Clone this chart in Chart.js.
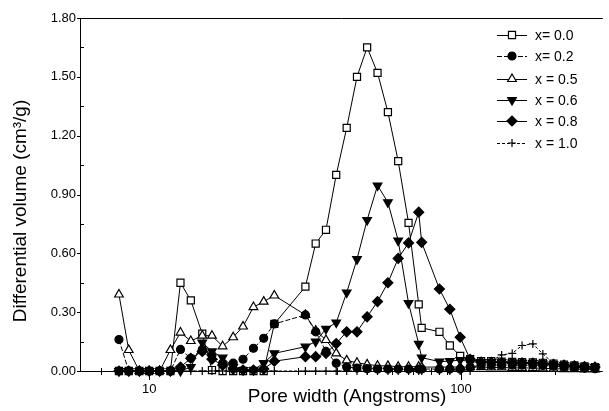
<!DOCTYPE html>
<html lang="en">
<head>
  <meta charset="UTF-8">
  <title>Differential pore volume</title>
  <script src="https://cdn.jsdelivr.net/npm/chart.js"></script>
  <style>
    body {
      margin: 0;
      padding: 0;
      background: #fff;
    }
    #chart {
      display: block;
    }
  </style>
</head>
<body>
  <canvas id="chart" width="609" height="411"></canvas>

  <script>
    // Pore widths (Angstroms), shared by every series
    const poreWidth = [8.0, 8.6, 9.3, 10.0, 10.8, 11.7, 12.6, 13.6, 14.8, 15.9, 17.2, 18.6, 20.0, 21.6, 23.3, 25.2,
      31.7, 34.2, 36.9, 39.8, 43.0, 46.4, 50.0, 54.0, 58.3, 62.9, 67.9, 73.2, 74.8, 85.3, 92.1, 99.4,
      107, 116, 125, 135, 146, 157, 170, 183, 198, 214, 231, 249, 269];

    // Differential volume (cm3/g) per composition
    const vol00 = [0, 0, 0, 0, 0, 0, 0.45, 0.36, 0.19, 0.005, 0, 0, 0, 0, 0, 0.24,
      0.43, 0.65, 0.72, 1.00, 1.24, 1.50, 1.65, 1.52, 1.32, 1.07, 0.755, 0.34, 0.22, 0.20, 0.13, 0.077,
      0.06, 0.05, 0.05, 0.048, 0.046, 0.045, 0.044, 0.042, 0.038, 0.032, 0.028, 0.024, 0.02];
    const vol02 = [0.16, 0, 0, 0, 0, 0, 0.11, 0.065, 0.11, 0.08, 0.04, 0.04, 0.06, 0.116, 0.167, 0.24,
      0.286, 0.2, 0.1, 0.04, 0.02, 0.015, 0.012, 0.01, 0.01, 0.01, 0.01, 0.01, 0.01, 0.01, 0.01, 0.01,
      0.02, 0.03, 0.03, 0.03, 0.03, 0.03, 0.03, 0.028, 0.025, 0.02, 0.018, 0.015, 0.012];
    const vol05 = [0.39, 0.107, 0, 0, 0, 0.107, 0.196, 0.153, 0.18, 0.18, 0.126, 0.172, 0.227, 0.326, 0.354, 0.385,
      0.286, 0.206, 0.158, 0.09, 0.054, 0.042, 0.034, 0.027, 0.026, 0.022, 0.022, 0.022, 0.02, 0.02, 0.02, 0.02,
      0.02, 0.02, 0.018, 0.018, 0.016, 0.016, 0.015, 0.014, 0.012, 0.01, 0.01, 0.008, 0.008];
    const vol06 = [0, 0, 0, 0, 0, 0, 0, 0.02, 0.145, 0.10, 0.068, 0.02, 0.005, 0.005, 0.04, 0.09,
      0.124, 0.15, 0.215, 0.247, 0.40, 0.57, 0.77, 0.946, 0.86, 0.665, 0.346, 0.138, 0.068, 0.048, 0.05, 0.056,
      0.048, 0.046, 0.045, 0.044, 0.043, 0.042, 0.04, 0.038, 0.034, 0.03, 0.026, 0.022, 0.02];
    const vol08 = [0, 0, 0, 0, 0, 0, 0.02, 0.065, 0.1, 0.06, 0.03, 0.01, 0.005, 0.005, 0.01, 0.05,
      0.073, 0.073, 0.09, 0.14, 0.2, 0.2, 0.276, 0.354, 0.45, 0.574, 0.653, 0.81, 0.656, 0.418, 0.315, 0.172,
      0.06, 0.045, 0.044, 0.043, 0.042, 0.041, 0.04, 0.038, 0.034, 0.03, 0.026, 0.022, 0.02];
    const vol10 = [0, 0, 0, 0, 0, 0, 0, 0, 0, 0, 0, 0, 0, 0, 0, 0,
      0, 0, 0, 0, 0, 0, 0, 0, 0, 0, 0, 0, 0, 0, 0, 0,
      0, 0.04, 0.05, 0.082, 0.09, 0.13, 0.138, 0.087, 0.04, 0.025, 0.02, 0.015, 0.012];

    const seriesLabels = ['x= 0.0', 'x= 0.2', 'x = 0.5', 'x = 0.6', 'x = 0.8', 'x = 1.0'];

    // Axis ticks
    const yTickValues = [0, 0.3, 0.6, 0.9, 1.2, 1.5, 1.8];
    const yMinorTicks = [0.15, 0.45, 0.75, 1.05, 1.35, 1.65];
    const xTickValues = [10, 100];
    const xMinorTicks = [7, 8, 9, 20, 30, 40, 50, 60, 70, 80, 90, 200];

    const FONT = '"Liberation Sans", Arial, sans-serif';

    function toPoints(values) {
      return values.map((v, i) => ({ x: poreWidth[i], y: v }));
    }

    function series(label, values, style) {
      return Object.assign({
        label: label,
        data: toPoints(values),
        borderColor: '#000',
        borderWidth: 1,
        pointBorderColor: '#000',
        pointBorderWidth: 1.2,
        pointBackgroundColor: '#000',
        pointRadius: 4,
        tension: 0,
        fill: false,
        clip: false
      }, style);
    }

    // higher "order" is painted first, so the filled markers sit on top near zero
    const datasets = [
      series(seriesLabels[0], vol00, { order: 6, pointStyle: 'rect', pointRadius: 5, pointBackgroundColor: '#fff' }),
      series(seriesLabels[1], vol02, { order: 3, pointStyle: 'circle', pointRadius: 4, borderDash: [5, 2] }),
      series(seriesLabels[2], vol05, { order: 5, pointStyle: 'triangle', pointRadius: 5, pointBackgroundColor: '#fff' }),
      series(seriesLabels[3], vol06, { order: 2, pointStyle: 'triangle', pointRotation: 180, pointRadius: 5 }),
      series(seriesLabels[4], vol08, { order: 1, pointStyle: 'rectRot', pointRadius: 5 }),
      series(seriesLabels[5], vol10, { order: 4, pointStyle: 'cross', pointRadius: 4, borderDash: [3, 2] })
    ];

    // legend rows (y centres)
    const legendY = [35, 56, 79, 100, 121, 143];

    function drawMarker(ctx, ds, x, y) {
      ctx.fillStyle = ds.pointBackgroundColor;
      ctx.strokeStyle = '#000';
      ctx.lineWidth = ds.pointBorderWidth;
      Chart.helpers.drawPoint(ctx, {
        pointStyle: ds.pointStyle,
        rotation: ds.pointRotation || 0,
        radius: ds.pointRadius,
        borderWidth: ds.pointBorderWidth
      }, x, y);
    }

    const framePlugin = {
      id: 'frame',
      beforeDatasetsDraw(chart) {
        const { ctx, chartArea: a, scales: { x, y } } = chart;
        ctx.save();
        ctx.strokeStyle = '#000';
        ctx.lineWidth = 1;
        ctx.beginPath();
        ctx.moveTo(a.left + 0.5, a.top);
        ctx.lineTo(a.left + 0.5, a.bottom + 1);
        ctx.moveTo(a.left, a.bottom + 0.5);
        ctx.lineTo(a.right, a.bottom + 0.5);
        ctx.moveTo(a.left, a.top + 0.5);
        ctx.lineTo(a.right, a.top + 0.5);

        xMinorTicks.forEach(v => {
          const px = Math.round(x.getPixelForValue(v)) + 0.5;
          ctx.moveTo(px, a.bottom - 3);
          ctx.lineTo(px, a.bottom + 4);
        });
        xTickValues.forEach(v => {
          const px = Math.round(x.getPixelForValue(v)) + 0.5;
          ctx.moveTo(px, a.bottom - 3);
          ctx.lineTo(px, a.bottom + 9);
        });
        yTickValues.forEach(v => {
          const py = Math.round(y.getPixelForValue(v)) + 0.5;
          ctx.moveTo(a.left - 3, py);
          ctx.lineTo(a.left + 1, py);
        });
        yMinorTicks.forEach(v => {
          const py = Math.round(y.getPixelForValue(v)) + 0.5;
          ctx.moveTo(a.left, py);
          ctx.lineTo(a.left + 4, py);
        });
        ctx.stroke();
        ctx.restore();
      },
      afterDraw(chart) {
        const ctx = chart.ctx;
        ctx.save();

        // axis titles
        ctx.fillStyle = '#000';
        ctx.font = '19px ' + FONT;
        ctx.textAlign = 'center';
        ctx.textBaseline = 'alphabetic';
        ctx.fillText('Pore width (Angstroms)', 347, 402);

        ctx.save();
        ctx.translate(26, 211);
        ctx.rotate(-Math.PI / 2);
        ctx.fillText('Differential volume (cm\u00B3/g)', 0, 0);
        ctx.restore();

        // legend
        chart.data.datasets.forEach((ds, i) => {
          const yy = legendY[i];
          ctx.strokeStyle = '#000';
          ctx.lineWidth = 1;
          ctx.setLineDash(ds.borderDash || []);
          ctx.beginPath();
          ctx.moveTo(497, yy + 0.5);
          ctx.lineTo(527, yy + 0.5);
          ctx.stroke();
          ctx.setLineDash([]);
          drawMarker(ctx, ds, 512, yy);
          ctx.fillStyle = '#000';
          ctx.font = '14px ' + FONT;
          ctx.textAlign = 'left';
          ctx.textBaseline = 'middle';
          ctx.fillText(ds.label, 535, yy + 1);
        });
        ctx.restore();
      }
    };

    new Chart(document.getElementById('chart'), {
      type: 'line',
      data: { datasets: datasets },
      plugins: [framePlugin],
      options: {
        responsive: false,
        animation: false,
        devicePixelRatio: 1,
        layout: { padding: { top: 18, right: 0, left: 0, bottom: 0 } },
        plugins: {
          legend: { display: false },
          tooltip: { enabled: false }
        },
        scales: {
          x: {
            type: 'logarithmic',
            min: 6,
            max: 285,
            afterBuildTicks: s => { s.ticks = xTickValues.map(v => ({ value: v })); },
            afterFit: s => { s.height = 40; },
            grid: { display: false, drawTicks: false },
            border: { display: false },
            ticks: {
              autoSkip: false,
              maxRotation: 0,
              padding: 11,
              color: '#000',
              font: { family: FONT, size: 13 },
              callback: v => String(v)
            }
          },
          y: {
            type: 'linear',
            min: 0,
            max: 1.8,
            afterBuildTicks: s => { s.ticks = yTickValues.map(v => ({ value: v })); },
            afterFit: s => { s.width = 80; },
            grid: { display: false, drawTicks: false },
            border: { display: false },
            ticks: {
              padding: 4,
              color: '#000',
              font: { family: FONT, size: 13 },
              callback: v => Number(v).toFixed(2)
            }
          }
        }
      }
    });
  </script>
</body>
</html>
